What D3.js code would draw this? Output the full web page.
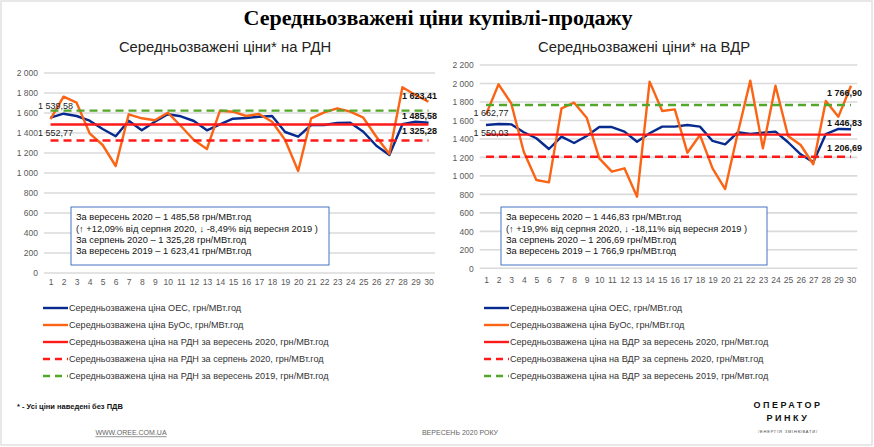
<!DOCTYPE html>
<html><head><meta charset="utf-8">
<script src="https://cdn.jsdelivr.net/npm/d3@7"></script>
<style>
html,body{margin:0;padding:0;background:#fff;}
svg{display:block;}
text{font-family:"Liberation Sans",Arial,sans-serif;}
</style></head>
<body>
<script>
// ---------- DATA ----------
const days = [1,2,3,4,5,6,7,8,9,10,11,12,13,14,15,16,17,18,19,20,21,22,23,24,25,26,27,28,29,30];

const rdnOes = [1552.77,1593,1570,1523,1440,1367,1523,1427,1513,1587,1567,1520,1427,1487,1543,1550,1563,1570,1410,1363,1480,1480,1500,1503,1413,1273,1180,1487,1513,1503];
const rdnBuos = [1539.58,1763,1703,1397,1280,1070,1587,1547,1527,1603,1470,1330,1240,1623,1613,1570,1590,1513,1330,1020,1547,1607,1647,1613,1553,1363,1190,1857,1780,1713];
const rdnRefs = [1485.58, 1325.28, 1623.41]; // Sep 2020, Aug 2020, Sep 2019

const vdrOes = [1550.03,1562,1558,1472,1407,1291,1425,1356,1432,1529,1529,1479,1370,1461,1533,1533,1551,1533,1378,1342,1472,1453,1468,1479,1364,1234,1147,1453,1508,1504];
const vdrBuos = [1662.77,1991,1786,1262,955,930,1731,1792,1630,1190,1046,1082,775,2020,1702,1720,1251,1443,1082,858,1461,2031,1299,1976,1432,1334,1126,1811,1641,1976];
const vdrRefs = [1446.83, 1206.69, 1766.9];

const rdnTicks = [0,200,400,600,800,1000,1200,1400,1600,1800,2000];
const vdrTicks = [0,200,400,600,800,1000,1200,1400,1600,1800,2000,2200];

const rdnStartLabels = ["1 539,58", "1 552,77"];
const vdrStartLabels = ["1 662,77", "1 550,03"];
const rdnEndLabels = ["1 623,41", "1 485,58", "1 325,28"];
const vdrEndLabels = ["1 766,90", "1 446,83", "1 206,69"];

const rdnBox = [
  "За вересень 2020 – 1 485,58 грн/МВт.год",
  "(↑ +12,09% від серпня 2020, ↓ -8,49% від вересня 2019 )",
  "За серпень 2020 – 1 325,28 грн/МВт.год",
  "За вересень 2019 – 1 623,41 грн/МВт.год"
];
const vdrBox = [
  "За вересень 2020 – 1 446,83 грн/МВт.год",
  "(↑ +19,9% від серпня 2020, ↓ -18,11% від вересня 2019 )",
  "За серпень 2020 – 1 206,69 грн/МВт.год",
  "За вересень 2019 – 1 766,9 грн/МВт.год"
];
const rdnLegend = [
  "Середньозважена ціна ОЕС, грн/МВт.год",
  "Середньозважена ціна БуОс, грн/МВт.год",
  "Середньозважена ціна на РДН за вересень 2020, грн/МВт.год",
  "Середньозважена ціна на РДН за серпень 2020, грн/МВт.год",
  "Середньозважена ціна на РДН за вересень 2019, грн/МВт.год"
];
const vdrLegend = [
  "Середньозважена ціна ОЕС, грн/МВт.год",
  "Середньозважена ціна БуОс, грн/МВт.год",
  "Середньозважена ціна на ВДР за вересень 2020, грн/Мвт.год",
  "Середньозважена ціна на ВДР за серпень 2020, грн/Мвт.год",
  "Середньозважена ціна на ВДР за вересень 2019, грн/Мвт.год"
];

// ---------- STYLE ----------
const C = {blue:"#072a8e", orange:"#fa6414", red:"#ff1a1a", green:"#52a82a", grid:"#dadada", tick:"#595959", box:"#4472c4"};
const seriesStyle = [
  {color:C.blue, dash:null},
  {color:C.orange, dash:null},
  {color:C.red, dash:null},
  {color:C.red, dash:"8,5"},
  {color:C.green, dash:"8,5"}
];

const W = 874, H = 447;
const svg = d3.select("body").append("svg").attr("width", W).attr("height", H);
svg.append("rect").attr("x",1).attr("y",1).attr("width",871).attr("height",444)
  .attr("fill","#fff").attr("stroke","#d9d9d9").attr("stroke-width",1.2);

const loc = d3.formatLocale({decimal:",", thousands:" ", grouping:[3], currency:["",""]});
const fmt = loc.format(",");

svg.append("text").attr("x",438).attr("y",25).attr("text-anchor","middle")
  .style("font-family","'Liberation Serif','Times New Roman',serif")
  .style("font-weight","bold").style("font-size","22px").attr("fill","#000")
  .text("Середньозважені ціни купівлі-продажу");

function panel(cfg) {
  const g = svg.append("g");
  const x = d3.scalePoint().domain(days).range(cfg.xr).padding(0.5);
  const y = d3.scaleLinear().domain([0, d3.max(cfg.ticks)]).range(cfg.yr);

  g.append("text").attr("x", cfg.titleX).attr("y", 52).attr("text-anchor","middle")
    .style("font-size","14.8px").attr("fill","#222").text(cfg.title);

  // gridlines
  g.append("g").selectAll("line").data(cfg.ticks).join("line")
    .attr("x1", cfg.xr[0]).attr("x2", cfg.xr[1])
    .attr("y1", d => y(d)).attr("y2", d => y(d))
    .attr("stroke", C.grid).attr("stroke-width", 1.6);

  // y axis
  const ya = g.append("g").attr("transform", `translate(${cfg.xr[0]},0)`)
    .call(d3.axisLeft(y).tickValues(cfg.ticks).tickFormat(fmt).tickSize(0).tickPadding(6));
  ya.select(".domain").remove();
  ya.selectAll("text").style("font-size","8.5px").style("font-family","'Liberation Sans',Arial,sans-serif").attr("fill", C.tick);

  // x axis
  const xa = g.append("g").attr("transform", `translate(0,${cfg.yr[0]})`)
    .call(d3.axisBottom(x).tickSize(0).tickPadding(cfg.xPad));
  xa.select(".domain").remove();
  xa.selectAll("text").style("font-size","8.5px").style("font-family","'Liberation Sans',Arial,sans-serif").attr("fill", C.tick);

  const line = d3.line().x((d,i) => x(days[i])).y(d => y(d));
  const all = [cfg.oes, cfg.buos, ...cfg.refs.map(v => days.map(() => v))];
  all.forEach((s, i) => {
    g.append("path").datum(s).attr("d", line).attr("fill","none")
      .attr("stroke", seriesStyle[i].color).attr("stroke-width", 2.4)
      .attr("stroke-dasharray", seriesStyle[i].dash)
      .attr("stroke-linejoin","round");
  });

  // start labels
  const x1 = x(days[0]);
  cfg.startLabels.forEach((t, i) => {
    g.append("text").attr("x", x1 - 12.5).attr("y", y([cfg.buos[0], cfg.oes[0]][i]) + cfg.startDy[i])
      .attr("dy","0.35em").style("font-size","9px").attr("fill","#222").text(t);
  });
  // end labels
  cfg.endLabels.forEach((t, i) => {
    const v = [cfg.refs[2], cfg.refs[0], cfg.refs[1]][i];
    g.append("text").attr("x", cfg.endX).attr("y", y(v) + cfg.endDy[i])
      .attr("dy","0.35em").style("font-size","9px").style("font-weight","bold").attr("fill","#111").text(t);
  });

  // info box
  g.append("rect").attr("x", cfg.box[0]).attr("y", 207).attr("width", cfg.box[1]).attr("height", 58)
    .attr("fill","#fff").attr("stroke", C.box).attr("stroke-width", 1);
  cfg.boxText.forEach((t, i) => {
    g.append("text").attr("x", cfg.box[0] + 5).attr("y", 217 + i * 11.4).attr("dy","0.35em")
      .style("font-size","9.3px").attr("fill","#111").text(t);
  });

  // legend
  cfg.legend.forEach((t, i) => {
    const ly = 308 + i * 17;
    g.append("line").attr("x1", cfg.legX).attr("x2", cfg.legX + 25).attr("y1", ly).attr("y2", ly)
      .attr("stroke", seriesStyle[i].color).attr("stroke-width", 2.4)
      .attr("stroke-dasharray", seriesStyle[i].dash ? "7,5" : null);
    g.append("text").attr("x", cfg.legX + 26).attr("y", ly).attr("dy","0.35em")
      .style("font-size","9.1px").attr("fill","#333").text(t);
  });
}

panel({
  title:"Середньозважені ціни* на РДН", titleX:225,
  xr:[44,435], yr:[273,73], ticks:rdnTicks, xPad:6,
  oes:rdnOes, buos:rdnBuos, refs:rdnRefs,
  startLabels:rdnStartLabels, startDy:[-13,15.5],
  endLabels:rdnEndLabels, endX:402, endDy:[-15,-9,-9.5],
  box:[71,258], boxText:rdnBox, legend:rdnLegend, legX:43
});
panel({
  title:"Середньозважені ціни* на ВДР", titleX:644,
  xr:[479.7,857.3], yr:[268.3,65], ticks:vdrTicks, xPad:9,
  oes:vdrOes, buos:vdrBuos, refs:vdrRefs,
  startLabels:vdrStartLabels, startDy:[-2,8],
  endLabels:vdrEndLabels, endX:827, endDy:[-12,-12,-8.5],
  box:[501,266], boxText:vdrBox, legend:vdrLegend, legX:484
});

// footer
svg.append("text").attr("x",17).attr("y",406).attr("dy","0.35em")
  .style("font-size","7.5px").style("font-weight","bold").attr("fill","#111")
  .text("* - Усі ціни наведені без ПДВ");
svg.append("text").attr("x",131).attr("y",433).attr("dy","0.35em").attr("text-anchor","middle")
  .style("font-size","7px").style("text-decoration","underline").attr("fill","#666")
  .text("WWW.OREE.COM.UA");
svg.append("text").attr("x",460).attr("y",433).attr("dy","0.35em").attr("text-anchor","middle")
  .style("font-size","7px").attr("fill","#666").text("ВЕРЕСЕНЬ 2020 РОКУ");
svg.append("text").attr("x",788).attr("y",405).attr("dy","0.35em").attr("text-anchor","middle")
  .style("font-size","9px").style("font-weight","bold").style("letter-spacing","2.5px").attr("fill","#111").text("ОПЕРАТОР");
svg.append("text").attr("x",788).attr("y",418).attr("dy","0.35em").attr("text-anchor","middle")
  .style("font-size","9px").style("font-weight","bold").style("letter-spacing","2.5px").attr("fill","#111").text("РИНКУ");
svg.append("text").attr("x",788).attr("y",432).attr("dy","0.35em").attr("text-anchor","middle")
  .style("font-size","4px").style("letter-spacing","0.8px").attr("fill","#444").text("/ЕНЕРГІЯ ЗМІНЮВАТИ/");
</script>
</body></html>
